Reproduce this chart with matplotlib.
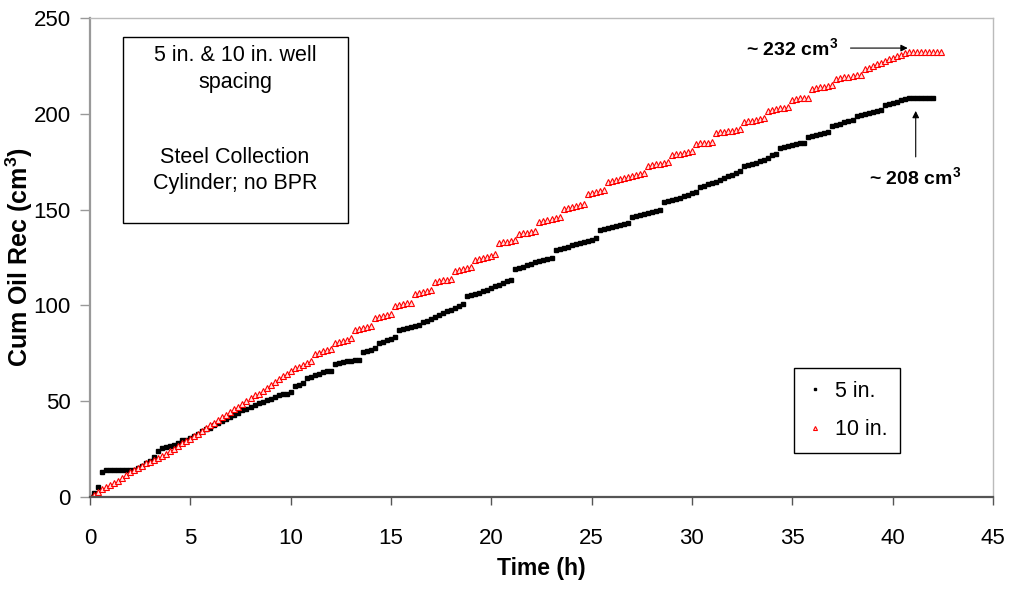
import matplotlib
matplotlib.use("Agg")
import matplotlib.pyplot as plt
from matplotlib.patches import Rectangle
import numpy as np

plt.rcParams['font.family'] = ['Liberation Sans', 'DejaVu Sans']
plt.rcParams['mathtext.default'] = 'regular'

# sampling times (h), one reading every 0.2 h
t_5in = np.round(np.arange(0, 42.01, 0.2), 1)
t_10in = np.round(np.arange(0, 42.41, 0.2), 1)

# cumulative oil recovered (cm3), 5 in. well spacing
oil_5in = [
    0, 2, 5, 13, 14, 14, 14, 14, 14, 14,
    14, 14, 15, 16, 17.5, 19, 21, 24, 25.5, 26,
    26.5, 27, 28, 29.5, 30, 31, 32, 33, 34.5, 35.5,
    36, 37.5, 38.5, 39.5, 40.5, 41.5, 43, 44, 45.5, 46,
    47, 48, 49, 49.5, 50.5, 51, 52, 53, 53.5, 54,
    55, 58, 58.5, 59.5, 62, 62.5, 63.5, 64, 65, 65.5,
    66, 69.5, 70, 70.5, 71, 71, 71.5, 71.5, 75.5, 76,
    76.5, 77.5, 80.5, 81, 82, 82.5, 83.5, 87, 87.5, 88,
    88.5, 89.5, 90, 91.5, 92, 93, 94, 95, 96, 97,
    97.5, 98.5, 99.5, 100.5, 105, 105.5, 106, 106.5, 107.5, 108,
    109, 110, 110.5, 111.5, 112.5, 113.5, 119, 119.5, 120, 121,
    121.5, 122.5, 123, 123.5, 124, 124.5, 129, 129.5, 130, 130.5,
    131.5, 132, 132.5, 133, 133.5, 134, 135, 139.5, 140, 140.5,
    141, 141.5, 142, 142.5, 143, 146, 146.5, 147, 147.5, 148,
    148.5, 149.5, 150, 154, 154.5, 155, 155.5, 156, 157, 157.5,
    158.5, 159, 162, 162.5, 163.5, 164, 164.5, 165.5, 166.5, 167.5,
    168, 169, 170, 173, 173.5, 174, 174.5, 175.5, 176, 177,
    178.5, 179, 182, 182.5, 183, 183.5, 184, 184.5, 185, 188,
    188.5, 189, 189.5, 190, 190.5, 193.5, 194, 194.5, 195.5, 196,
    197, 199, 199.5, 200, 200.5, 201, 201.5, 202, 204.5, 205,
    205.5, 206, 207, 207.5, 208, 208.5, 208.5, 208.5, 208.5, 208.5,
    208.5,
]

# cumulative oil recovered (cm3), 10 in. well spacing
oil_10in = [
    0, 1, 2.5, 4, 5, 6, 7.5, 8.5, 10, 11.5,
    13, 14, 15, 16, 17.5, 18.5, 19.5, 20.5, 21.5, 22.5,
    24, 25, 26.5, 28, 29, 30.5, 32, 33, 34.5, 36,
    37.5, 38.5, 40, 41.5, 43, 44.5, 46, 47, 48.5, 50,
    51.5, 53, 54, 55.5, 57, 58.5, 60, 61.5, 63, 64,
    65.5, 67.5, 68, 69, 70, 71, 74.5, 75, 76, 76.5,
    77, 80.5, 81, 81.5, 82, 83, 87, 87.5, 88, 88.5,
    89, 93.5, 94, 94.5, 95, 95.5, 99.5, 100, 100.5, 101,
    101.5, 106, 106.5, 107, 107.5, 108, 112, 112.5, 113, 113.5,
    114, 118, 118.5, 119, 119.5, 120, 123.5, 124, 124.5, 125,
    126, 127, 132.5, 133, 133, 133.5, 134, 137.5, 138, 138,
    138.5, 139, 143.5, 144, 144.5, 145, 145.5, 146, 150.5, 151,
    151.5, 152, 152.5, 153, 158, 158.5, 159, 159.5, 160, 164.5,
    165, 165.5, 166, 166.5, 167, 167.5, 168, 168.5, 169, 173,
    173.5, 174, 174, 174.5, 175, 178.5, 179, 179, 179.5, 180,
    180.5, 184, 184.5, 185, 185, 185.5, 190, 190.5, 190.5, 191,
    191, 191.5, 192, 195.5, 196, 196.5, 197, 197.5, 198, 201.5,
    202, 202.5, 203, 203, 203.5, 207, 207.5, 208, 208, 208.5,
    213, 213.5, 214, 214, 214.5, 215, 218, 218.5, 219, 219,
    219.5, 220, 220, 223.5, 224, 225, 226, 226.5, 227.5, 228.5,
    229, 230, 230.5, 231.5, 232, 232, 232, 232, 232, 232,
    232, 232, 232,
]

box_lines = ["5 in. & 10 in. well", "spacing", "Steel Collection", "Cylinder; no BPR"]

fig = plt.figure(figsize=(10.12, 5.92), dpi=100)
ax = fig.add_axes([0.0889, 0.1605, 0.8923, 0.8091])

ax.plot(t_5in, oil_5in, linestyle='none', marker='s', markersize=3,
        color='black', label='5 in.')
ax.plot(t_10in, oil_10in, linestyle='none', marker='^', markersize=4.8,
        markerfacecolor='#ffe0e0', markeredgecolor='red', markeredgewidth=0.8,
        label='10 in.')

ax.set_xlim(0, 45)
ax.set_ylim(0, 250)
ax.set_xticks(range(0, 46, 5))
ax.set_yticks(range(0, 251, 50))
ax.tick_params(axis='x', direction='out', length=6, width=1, color='#555555',
               labelsize=16, pad=16)
ax.tick_params(axis='y', direction='out', length=7, width=1, color='#999999',
               labelsize=16, pad=7)

ax.spines['left'].set_color('#999999')
ax.spines['left'].set_linewidth(1.6)
ax.spines['bottom'].set_color('#555555')
ax.spines['bottom'].set_linewidth(1.6)
for s in ['top', 'right']:
    ax.spines[s].set_color('#bbbbbb')
    ax.spines[s].set_linewidth(1)

ax.set_xlabel('Time (h)', fontsize=16.5, fontweight='bold')
ax.xaxis.set_label_coords(0.5, -0.125)
ax.set_ylabel('Cum Oil Rec (cm$^{3}$)', fontsize=18, fontweight='bold')
ax.yaxis.set_label_coords(-0.061, 0.5)

# text box upper left
ax.add_patch(Rectangle((0.0365, 0.572), 0.2492, 0.388, transform=ax.transAxes,
                       facecolor='white', edgecolor='black', linewidth=1, zorder=4))
for txt, yy in zip(box_lines, [0.921, 0.866, 0.708, 0.655]):
    ax.text(0.1606, yy, txt, transform=ax.transAxes, ha='center', va='center',
            fontsize=15.5, zorder=5)

# end-point annotations
ax.annotate('', xy=(40.75, 234.3), xytext=(37.9, 234.3),
            arrowprops=dict(arrowstyle='-|>', color='black', lw=0.8,
                            mutation_scale=10, shrinkA=0, shrinkB=0))
ax.text(35.0, 234.3, '~ 232 cm$^{3}$', ha='center', va='center',
        fontsize=14, fontweight='bold')
ax.annotate('', xy=(41.15, 201.5), xytext=(41.15, 177.5),
            arrowprops=dict(arrowstyle='-|>', color='black', lw=0.8,
                            mutation_scale=10, shrinkA=0, shrinkB=0))
ax.text(41.1, 167.0, '~ 208 cm$^{3}$', ha='center', va='center',
        fontsize=14, fontweight='bold')

leg = ax.legend(loc='upper left', bbox_to_anchor=(0.7796, 0.2693), fontsize=15.5,
                frameon=True, fancybox=False, edgecolor='black', framealpha=1,
                markerscale=0.6, handlelength=0.8, handletextpad=0.5,
                borderpad=0.6, labelspacing=0.8, borderaxespad=0)
leg.get_frame().set_linewidth(1)

fig.savefig('out.png', dpi=100)
